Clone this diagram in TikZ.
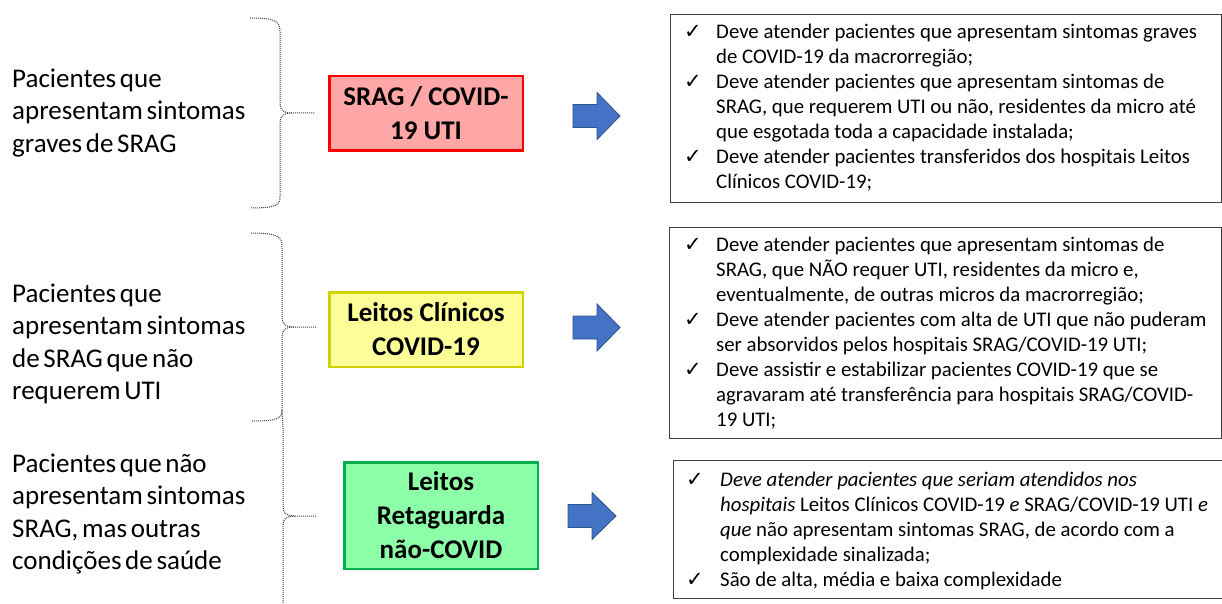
\documentclass[tikz,border=0pt]{standalone}
\usepackage{fontspec}
\setmainfont{Carlito}
\newfontfamily\leftf[WordSpace=0.6]{Carlito}
\newfontfamily\symf{DejaVu Sans}
\definecolor{redfill}{HTML}{FFA6A6}
\definecolor{redline}{HTML}{FF0000}
\definecolor{yelfill}{HTML}{FFFF99}
\definecolor{yelline}{HTML}{D2D200}
\definecolor{grnfill}{HTML}{8CFFA8}
\definecolor{grnline}{HTML}{00B050}
\definecolor{arrowblue}{HTML}{4472C4}
\definecolor{arrowedge}{HTML}{2F528F}
\definecolor{framegray}{HTML}{404040}
\newcommand\ck{\makebox[28pt][l]{\hspace*{-4pt}\symf\fontsize{21}{21}\selectfont ✓}}
\newcommand\ind{\hspace*{28pt}}
\newcommand\ckb{\makebox[30pt][l]{\hspace*{-4pt}\symf\fontsize{21}{21}\selectfont ✓}}
\newcommand\indb{\hspace*{30pt}}
\begin{document}
\begin{tikzpicture}[x=1pt,y=-1pt,
  lefttext/.style={anchor=west, align=left, inner sep=0, font=\leftf\fontsize{27}{32.5}\selectfont},
  catbox/.style={draw, line width=2.5pt, inner sep=0, align=center, minimum width=193.5pt, font=\bfseries\fontsize{27}{34}\selectfont},
  rbox/.style={draw=framegray, line width=1.3pt, anchor=north west, inner sep=0},
  rtext/.style={anchor=west, align=left, inner sep=0, font=\fontsize{20.8}{25}\selectfont},
  bracestyle/.style={draw=black!75, line width=1pt, dash pattern=on 1pt off 1pt},
  blockarrow/.style={fill=arrowblue, draw=arrowedge, line width=0.8pt}]
\useasboundingbox (0,0) rectangle (1222,604);

% left texts
\node[lefttext] (t1) at (12,113) {Pacientes que\\apresentam sintomas\\graves de SRAG};
\node[lefttext] (t2) at (12,344) {Pacientes que\\apresentam sintomas\\de SRAG que não\\requerem UTI};
\node[lefttext] (t3) at (12,514) {Pacientes que não\\apresentam sintomas\\SRAG, mas outras\\condições de saúde};

% braces
\draw[bracestyle] (250,18) .. controls (277,18) and (280,22) .. (280,32) -- (280,103)
  .. controls (280,110) and (283,113) .. (292,113) -- (315,113);
\draw[bracestyle] (292,113) .. controls (283,113) and (280,116) .. (280,123) -- (280,197)
  .. controls (280,205) and (277,208) .. (250,208);
\draw[bracestyle] (251,233) .. controls (279,233) and (282,237) .. (282,247) -- (282,317)
  .. controls (282,324) and (285,327) .. (294,327) -- (317,327);
\draw[bracestyle] (294,327) .. controls (285,327) and (282,330) .. (282,337) -- (282,410)
  .. controls (282,418) and (279,421) .. (252,421);
\draw[bracestyle] (282,410) .. controls (282,418) and (283,421) .. (283,428) -- (283,506)
  .. controls (283,513) and (286,516) .. (295,516) -- (317,516);
\draw[bracestyle] (295,516) .. controls (286,516) and (283,519) .. (283,526) -- (283,610);

% category boxes
\node[catbox, draw=redline, fill=redfill, minimum height=74.5pt] (b1) at (426,113.5) {SRAG / COVID-\\19 UTI};
\node[catbox, draw=yelline, fill=yelfill, minimum height=74.5pt] (b2) at (426,329.5) {Leitos Clínicos\\COVID-19};
\node[catbox, draw=grnline, fill=grnfill, minimum height=106.5pt] (b3) at (441,515.5) {Leitos\\Retaguarda\\não-COVID};

% block arrows
\draw[blockarrow] (573,116) ++(0,-11.5) -- ++(24,0) -- ++(0,-12) -- ++(23,23.5) -- ++(-23,23.5) -- ++(0,-12) -- ++(-24,0) -- cycle;
\draw[blockarrow] (573,327.5) ++(0,-11.5) -- ++(24,0) -- ++(0,-12) -- ++(23,23.5) -- ++(-23,23.5) -- ++(0,-12) -- ++(-24,0) -- cycle;
\draw[blockarrow] (568,516) ++(0,-11.5) -- ++(24,0) -- ++(0,-12) -- ++(24,23.5) -- ++(-24,23.5) -- ++(0,-12) -- ++(-24,0) -- cycle;

% right frames
\node[rbox, minimum width=551pt, minimum height=188pt] (r1) at (670,14) {};
\node[rbox, minimum width=552pt, minimum height=211pt] (r2) at (669,227) {};
\node[rbox, minimum width=560pt, minimum height=138pt] (r3) at (673,460) {};

% right texts
\node[rtext] (r1t) at (688,108) {\ck Deve atender pacientes que apresentam sintomas graves\\
\ind de COVID-19 da macrorregião;\\
\ck Deve atender pacientes que apresentam sintomas de\\
\ind SRAG, que requerem UTI ou não, residentes da micro até\\
\ind que esgotada toda a capacidade instalada;\\
\ck Deve atender pacientes transferidos dos hospitais Leitos\\
\ind Clínicos COVID-19;};
\node[rtext] (r2t) at (688,333) {\ck Deve atender pacientes que apresentam sintomas de\\
\ind SRAG, que NÃO requer UTI, residentes da micro e,\\
\ind eventualmente, de outras micros da macrorregião;\\
\ck Deve atender pacientes com alta de UTI que não puderam\\
\ind ser absorvidos pelos hospitais SRAG/COVID-19 UTI;\\
\ck Deve assistir e estabilizar pacientes COVID-19 que se\\
\ind agravaram até transferência para hospitais SRAG/COVID-\\
\ind 19 UTI;};
\node[rtext] (r3t) at (690,531) {\ckb \textit{Deve atender pacientes que seriam atendidos nos}\\
\indb \textit{hospitais} Leitos Clínicos COVID-19 \textit{e} SRAG/COVID-19 UTI \textit{e}\\
\indb \textit{que} não apresentam sintomas SRAG, de acordo com a\\
\indb complexidade sinalizada;\\
\ckb São de alta, média e baixa complexidade};
\end{tikzpicture}
\end{document}
